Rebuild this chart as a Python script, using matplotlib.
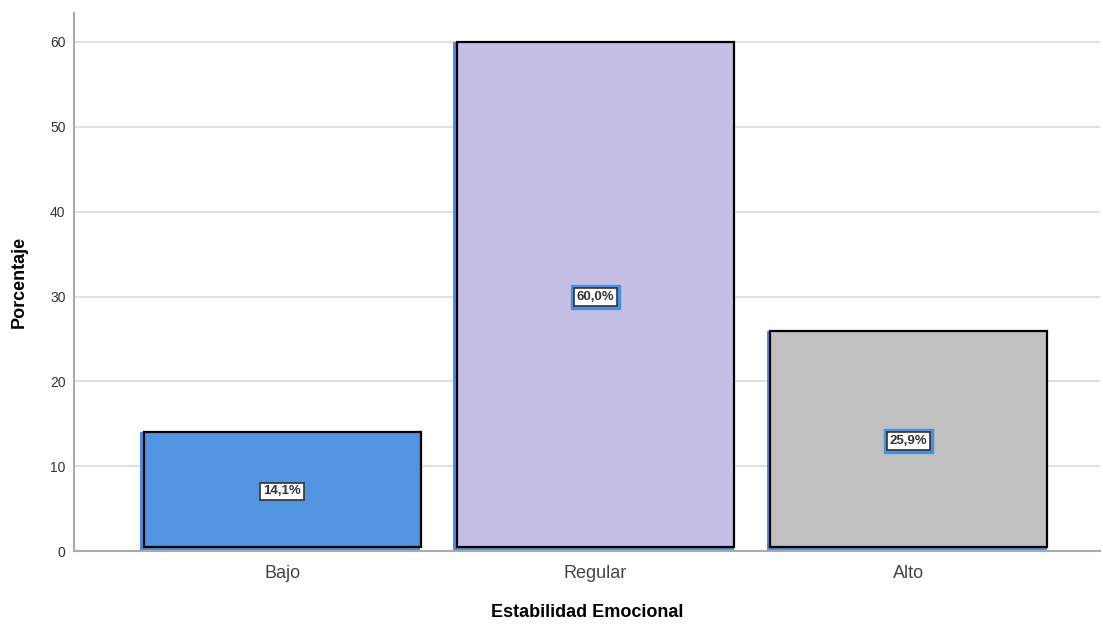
import matplotlib.pyplot as plt
import numpy as np

plt.rcParams['font.family'] = ['Liberation Sans', 'DejaVu Sans']

# === Data ===
categories = ["Bajo", "Regular", "Alto"]
percentages = [14.1, 60.0, 25.9]
labels = ["14,1%", "60,0%", "25,9%"]
colors = ["#5294e2", "#c6bfe5", "#c0c0c0"]
halo = [False, True, True]

fig = plt.figure(figsize=(11.03, 6.25), dpi=100)
ax = fig.add_axes([0.067, 0.118, 0.93, 0.861])

x = np.arange(len(categories))
width = 0.895

# blue outline behind each bar (SPSS style selection border)
ax.bar(x - 0.006, percentages, width=width, bottom=0, color="#4a90e2",
       edgecolor="none", zorder=2)
ax.bar(x, np.array(percentages) - 0.45, width=width - 0.01, bottom=0.45,
       color=colors, edgecolor="black", linewidth=1.6, zorder=3)

for xi, val, lab, h in zip(x, percentages, labels, halo):
    if h:
        ax.text(xi, val / 2, lab, ha="center", va="center", fontsize=9.5,
                fontweight="bold", color="none", zorder=4,
                bbox=dict(boxstyle="square,pad=0.45", fc="#4a90e2", ec="#4a90e2", lw=1))
    ax.text(xi, val / 2, lab, ha="center", va="center", fontsize=9.5,
            fontweight="bold", color="#333333", zorder=5,
            bbox=dict(boxstyle="square,pad=0.22", fc="white", ec="#333333", lw=1.2))

ax.set_xlim(-0.665, 2.61)
ax.set_ylim(0, 63.4)
ax.set_yticks(range(0, 70, 10))
ax.set_xticks(x)
ax.set_xticklabels(categories, fontsize=13, color="#444444")
ax.tick_params(axis="y", labelsize=10, colors="#333333", length=0, pad=6)
ax.tick_params(axis="x", length=0, pad=10)

ax.yaxis.grid(True, color="#dddddd", linewidth=1.3, zorder=0)
ax.set_axisbelow(True)
for s in ["top", "right"]:
    ax.spines[s].set_visible(False)
for s in ["left", "bottom"]:
    ax.spines[s].set_color("#aaaaaa")
    ax.spines[s].set_linewidth(1.5)

ax.set_ylabel("Porcentaje", fontsize=13, fontweight="bold", labelpad=16)
ax.set_xlabel("Estabilidad Emocional", fontsize=13, fontweight="bold", labelpad=16)

fig.savefig("out.png", dpi=100)
